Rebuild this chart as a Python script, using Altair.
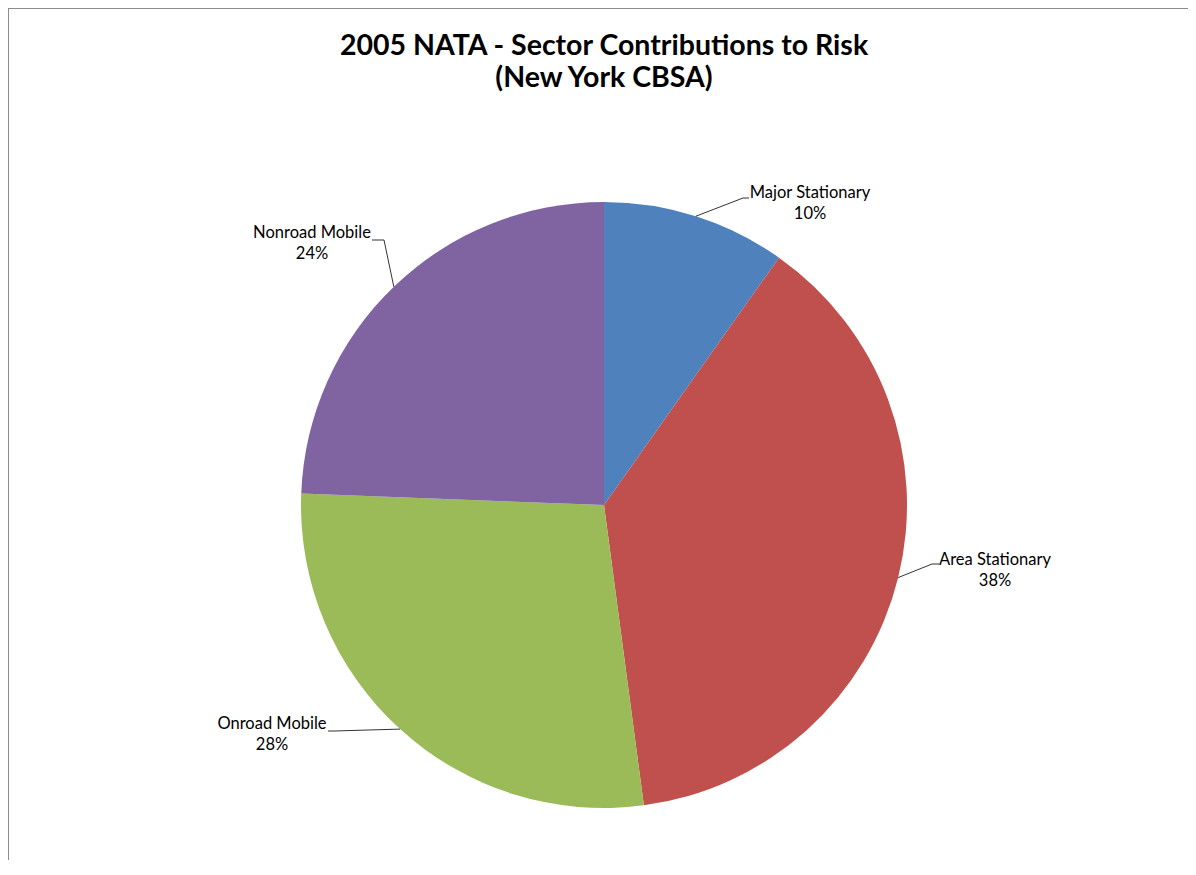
import math
import altair as alt
import pandas as pd

# ---- data ----
sectors = ["Major Stationary", "Area Stationary", "Onroad Mobile", "Nonroad Mobile"]
shares = [9.8, 38.1, 27.7, 24.4]
colors = ["#4F81BD", "#C0504D", "#9BBB59", "#8064A2"]
title_lines = ["2005 NATA - Sector Contributions to Risk", "(New York CBSA)"]

# ---- layout (chart pixels) ----
W, H = 1180, 852
CX, CY, R = 596, 497, 303
layout = {
    "Major Stationary": dict(elbow=(735, 190), anchor=(741, 190), text=(802, 185)),
    "Area Stationary": dict(elbow=(924, 556), anchor=(931, 556), text=(987, 552)),
    "Onroad Mobile": dict(elbow=(326, 723), anchor=(320, 723), text=(264, 716)),
    "Nonroad Mobile": dict(elbow=(376, 232), anchor=(364, 232), text=(304, 225)),
}
title_pos = [(596, 38), (596, 70)]

total = sum(shares)
pct = [round(s / total * 100) for s in shares]

pie_df = pd.DataFrame({"sector": sectors, "share": shares, "order": list(range(len(sectors)))})

# leader lines from slice mid-angle on the rim to the label
lead_rows, label_rows = [], []
cum = 0.0
for s, v, p in zip(sectors, shares, pct):
    mid = (cum + v / 2) / total * 2 * math.pi
    cum += v
    ex, ey = CX + R * math.sin(mid), CY - R * math.cos(mid)
    L = layout[s]
    for i, (px, py) in enumerate([(ex, ey), L["elbow"], L["anchor"]]):
        lead_rows.append({"sector": s, "step": i, "x": px, "y": py})
    label_rows.append({"x": L["text"][0], "y": L["text"][1], "label": f"{s}\n{p}%"})

lead_df = pd.DataFrame(lead_rows)
label_df = pd.DataFrame(label_rows)
title_df = pd.DataFrame({"x": [p[0] for p in title_pos], "y": [p[1] for p in title_pos], "t": title_lines})

xs = alt.Scale(domain=[0, W], range=[0, W])
ys = alt.Scale(domain=[0, H], range=[0, H])

pie = alt.Chart(pie_df).mark_arc(radius=R).encode(
    theta=alt.Theta("share:Q", stack=True),
    color=alt.Color("sector:N", scale=alt.Scale(domain=sectors, range=colors), legend=None),
    order=alt.Order("order:Q"),
    x=alt.value(CX),
    y=alt.value(CY),
)

leaders = alt.Chart(lead_df).mark_line(color="#333333", strokeWidth=1).encode(
    x=alt.X("x:Q", scale=xs, axis=None),
    y=alt.Y("y:Q", scale=ys, axis=None),
    detail="sector:N",
    order="step:Q",
)

labels = alt.Chart(label_df).mark_text(
    lineBreak="\n", align="center", baseline="middle", font="Lato", fontSize=16.5,
    lineHeight=21, color="#000000",
).encode(
    x=alt.X("x:Q", scale=xs, axis=None),
    y=alt.Y("y:Q", scale=ys, axis=None),
    text="label:N",
)

title = alt.Chart(title_df).mark_text(
    align="center", baseline="middle", font="Lato", fontSize=28.5, fontWeight="bold", color="#000000",
).encode(
    x=alt.X("x:Q", scale=xs, axis=None),
    y=alt.Y("y:Q", scale=ys, axis=None),
    text="t:N",
)

frame_top = alt.Chart(pie_df).mark_rule(color="#8c8c8c", strokeWidth=1).encode(
    x=alt.value(0), x2=alt.value(W), y=alt.value(0.5)
)
frame_left = alt.Chart(pie_df).mark_rule(color="#8c8c8c", strokeWidth=1).encode(
    x=alt.value(0.5), y=alt.value(0), y2=alt.value(H)
)

chart = alt.layer(pie, leaders, labels, title, frame_top, frame_left).properties(
    width=W, height=H, padding=0, autosize="none", background="white"
).configure_view(stroke=None)

chart.save("out.html", embed_options={"renderer": "svg", "actions": False})
